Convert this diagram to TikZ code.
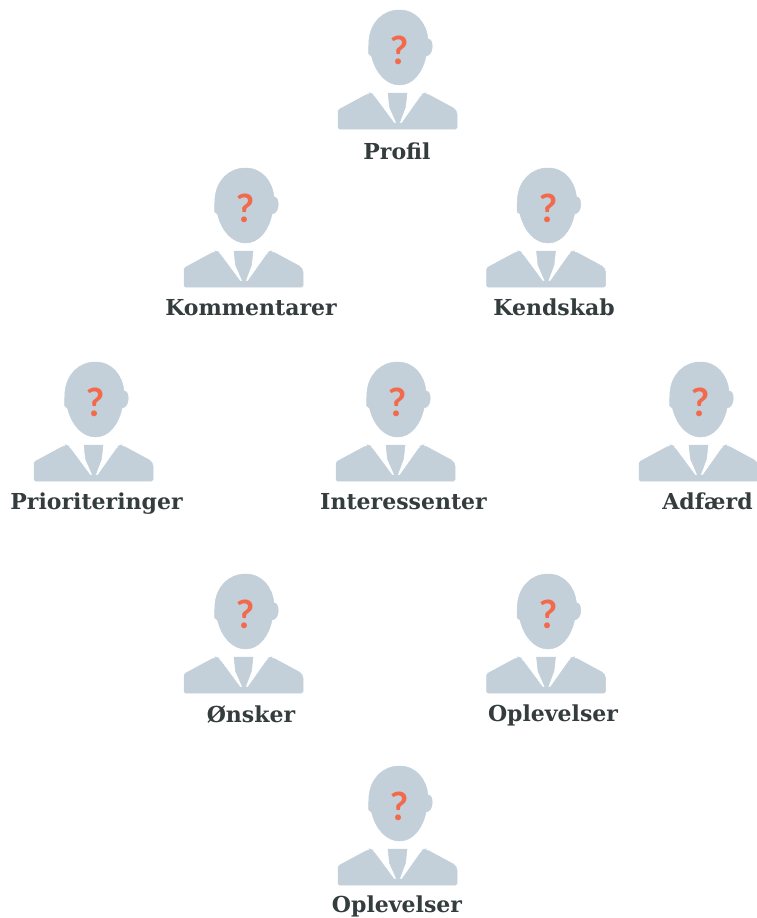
\documentclass[tikz,border=0pt]{standalone}
\usepackage{fontspec}
\setmainfont{DejaVu Serif}
\newfontfamily\qfont{Lato}
\definecolor{silh}{HTML}{C3D0DA}
\definecolor{qmark}{HTML}{F26A4B}
\definecolor{lbl}{HTML}{343C3E}
\tikzset{
  silhouette/.style={fill=silh,draw=silh,line width=0.5pt,line join=round},
  qnode/.style={text=qmark,inner sep=0pt,font=\qfont\bfseries\fontsize{39}{39}\selectfont},
  lblnode/.style={text=lbl,inner sep=0pt,anchor=base,font=\bfseries\fontsize{22}{24}\selectfont}
}
\newcommand{\personicon}[3]{%
  \begin{scope}[shift={(#2,#3)}]
    \fill[silhouette] (2,0) .. controls (19,0) and (29,14) .. (30.5,29)
      .. controls (36,28) and (37,45) .. (28.5,46)
      .. controls (25,63) and (15,75) .. (2,75)
      .. controls (-11,75) and (-22,63) .. (-26,46)
      .. controls (-29,45) and (-29,44) .. (-29,40) -- (-28.5,30)
      .. controls (-27,13) and (-15,0) .. (2,0) -- cycle;
    \fill[silhouette,rounded corners=1.5pt] (-59.5,119) -- (-59.5,100)
      [rounded corners=4pt] -- (-28,83) -- (-25,84)
      [rounded corners=0pt] -- (-3.5,113) -- (-1,113) -- (-8,97) -- (-9.5,83) -- (9.5,83) -- (8,97) -- (2,113) -- (4.5,113)
      [rounded corners=4pt] -- (25,84) -- (28,83) -- (59.5,100)
      [rounded corners=1.5pt] -- (59.5,119) -- cycle;
    \node[qnode] (#1q) at (2,40) {?};
  \end{scope}}
\begin{document}
\begin{tikzpicture}[x=1pt,y=-1pt]
\useasboundingbox (0,0) rectangle (757,918);
\personicon{a}{397.5}{10}
\node[lblnode] (al) at (397,159) {Profil};
\personicon{b}{243.5}{168}
\node[lblnode] (bl) at (251,315.5) {Kommentarer};
\personicon{c}{546}{168}
\node[lblnode] (cl) at (554,315.5) {Kendskab};
\personicon{d}{93.5}{362}
\node[lblnode] (dl) at (96.5,509.5) {Prioriteringer};
\personicon{e}{395.5}{362}
\node[lblnode] (el) at (403.5,509.5) {Interessenter};
\personicon{f}{698.5}{362}
\node[lblnode] (fl) at (707.5,509.5) {Adfærd};
\personicon{g}{243.5}{574}
\node[lblnode] (gl) at (251,722.5) {Ønsker};
\personicon{h}{546}{574}
\node[lblnode] (hl) at (553,721.5) {Oplevelser};
\personicon{i}{397.5}{766}
\node[lblnode] (il) at (397,912.5) {Oplevelser};
\end{tikzpicture}
\end{document}
